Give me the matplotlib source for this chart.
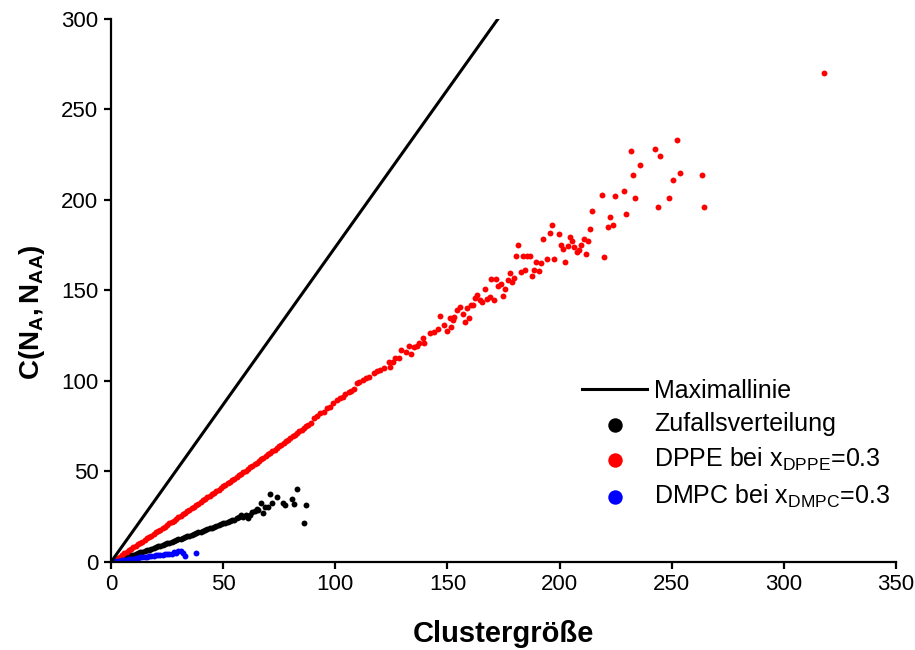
import matplotlib
matplotlib.use('Agg')
import matplotlib.pyplot as plt

plt.rcParams['font.family'] = ['Liberation Sans', 'DejaVu Sans']
plt.rcParams['mathtext.fontset'] = 'custom'
plt.rcParams['mathtext.rm'] = 'Liberation Sans'
plt.rcParams['mathtext.it'] = 'Liberation Sans:italic'
plt.rcParams['mathtext.bf'] = 'Liberation Sans:bold'

# Maximallinie
max_n = [0, 172.5]
max_c = [0, 300]

# Zufallsverteilung
rand_n = [1, 2, 3, 4, 5, 6, 7, 8, 9, 10, 11, 12, 13, 14, 15, 16, 17, 18, 19, 20,
          21, 22, 23, 24, 25, 26, 27, 28, 29, 30, 31, 32, 33, 34, 35, 36, 37, 38, 39, 40,
          41, 42, 43, 44, 45, 46, 47, 48, 49, 50, 51, 52, 53, 54, 55, 56, 57, 58, 59, 60,
          61, 62, 63, 64.3, 65, 65.5, 66.8, 67.7, 68.8, 69.8, 71, 71.7, 74, 76.9, 77.7,
          80.7, 81.7, 82.9, 85.9, 87.1]
rand_c = [0.0, 0.5, 1.0, 1.5, 2.0, 2.4, 2.8, 3.2, 3.6, 4.1, 4.5, 4.9, 5.3, 5.7, 6.1, 6.5,
          6.9, 7.4, 7.8, 8.2, 8.6, 9.0, 9.5, 9.9, 10.3, 10.7, 11.2, 11.6, 12.0, 12.5, 12.9,
          13.3, 13.7, 14.2, 14.6, 15.0, 15.5, 16.0, 16.4, 16.8, 17.2, 17.7, 18.1, 18.6, 19.0,
          19.5, 19.9, 20.4, 20.8, 21.3, 21.6, 22.2, 22.5, 23.1, 23.4, 24.1, 24.6, 26.0, 25.0,
          25.8, 24.3, 26.2, 27.8, 28.2, 29.1, 28.7, 32.4, 26.9, 30.2, 30.6, 37.4, 32.4, 35.7,
          32.4, 31.5, 34.8, 32.0, 40.3, 21.4, 31.5]

# DPPE bei x_DPPE = 0.3
dppe_n = [1, 2, 3, 4, 5, 6, 7, 8, 9, 10, 11, 12, 13, 14, 15, 16, 17, 18, 19, 20,
          21, 22, 23, 24, 25, 26, 27, 28, 29, 30, 31, 32, 33, 34, 35, 36, 37, 38, 39, 40,
          41, 42, 43, 44, 45, 46, 47, 48, 49, 50, 51, 52, 53, 54, 55, 56, 57, 58, 59, 60,
          61, 62, 63, 64, 65, 66, 67, 68, 69, 70, 71, 72, 73, 74, 75, 76, 77, 78, 79, 80,
          81, 82, 83, 84, 85, 86, 87, 88, 89,
          90.3, 91.8, 93.3, 94.8, 96.3, 97.8, 99.2, 100.8, 102.2, 103.4, 104.5, 105.9,
          107.0, 108.2, 109.7, 110.8, 112.4, 113.8, 114.9, 117.1, 118.6, 120.1, 121.6,
          124.6, 123.9, 125.7, 126.6, 128.4, 129.5, 131.6, 133.9, 133.0, 134.9, 136.5,
          137.2, 139.6, 139.1, 142.4, 144.2, 145.7, 149.6, 148.4, 151.6, 146.9, 151.0,
          152.5, 153.1, 157.7, 154.3, 155.7, 156.8, 158.8, 159.7, 160.6, 161.5, 162.2,
          163.1, 164.7, 165.6, 166.7, 167.7, 168.8, 169.6, 170.8, 171.7, 172.6, 173.7,
          174.7, 175.8, 176.8, 177.7, 178.7, 179.6, 180.8, 181.6, 182.6, 183.8, 184.8,
          185.7, 186.9, 187.5, 188.5, 189.7, 190.9, 191.8, 192.6, 194.5, 195.7, 196.6,
          197.6, 199.7, 200.8, 201.6, 202.5, 203.7, 204.6, 205.7, 206.6, 207.6, 208.6,
          209.7, 210.9, 211.8, 212.6, 213.7, 214.6, 218.8, 219.8, 221.6, 222.5, 223.7,
          224.7, 228.7, 229.6, 231.7, 232.6, 233.6, 235.7, 242.5, 243.8, 244.6, 248.7,
          250.6, 252.5, 253.7, 263.7, 264.6, 318.0]
dppe_c = [0.0, 1.0, 2.0, 3.0, 3.9, 4.8, 5.6, 6.4, 7.3, 8.1, 8.9, 9.7, 10.5, 11.3, 12.2,
          13.0, 13.8, 14.6, 15.5, 16.3, 17.1, 17.9, 18.8, 19.6, 20.4, 21.3, 22.1, 22.9,
          23.8, 24.6, 25.5, 26.3, 27.2, 28.0, 28.9, 29.7, 30.6, 31.4, 32.3, 33.1, 34.0,
          34.8, 35.7, 36.6, 37.4, 38.3, 39.2, 40.0, 40.9, 41.8, 42.6, 43.5, 44.4, 45.2,
          46.1, 47.0, 47.9, 48.8, 49.6, 50.5, 51.4, 52.3, 53.2, 54.1, 54.9, 55.8, 56.7,
          57.6, 58.5, 59.4, 60.3, 61.2, 62.1, 63.0, 63.9, 64.8, 65.8, 66.7, 67.6, 68.5,
          69.4, 70.3, 71.2, 72.1, 73.1, 74.0, 74.9, 75.8, 76.8,
          79.4, 80.8, 82.1, 83.0, 84.9, 85.8, 88.0, 89.5, 90.6, 91.3, 92.8, 93.8,
          94.6, 95.6, 98.7, 99.4, 100.6, 101.7, 102.4, 104.3, 105.5, 106.1, 107.3,
          107.7, 110.5, 110.3, 112.5, 112.5, 117.1, 116.2, 115.1, 119.3, 118.6, 119.3,
          120.8, 120.8, 123.6, 126.5, 127.2, 128.9, 127.6, 130.8, 130.0, 135.7, 135.0,
          133.7, 135.2, 132.6, 139.2, 140.7, 137.2, 140.5, 135.0, 141.8, 142.0, 146.0,
          147.5, 144.8, 143.8, 150.6, 145.3, 146.2, 156.2, 144.5, 156.2, 152.5, 153.6,
          147.0, 150.6, 155.8, 159.7, 154.9, 156.9, 168.9, 175.1, 160.4, 168.9, 161.2,
          169.0, 169.0, 158.2, 161.3, 165.7, 161.0, 165.0, 178.6, 167.2, 181.6, 186.2,
          167.6, 181.2, 175.0, 172.9, 165.7, 174.6, 179.7, 177.2, 174.0, 171.1, 172.2,
          175.1, 178.3, 170.0, 177.2, 184.2, 194.1, 202.6, 168.3, 185.3, 190.8, 186.2,
          202.2, 205.1, 192.1, 227.0, 213.6, 201.1, 219.2, 228.0, 196.1, 224.3, 201.1,
          211.0, 233.0, 214.9, 214.0, 196.1, 270.0]

# DMPC bei x_DMPC = 0.3
dmpc_n = [1, 2, 3, 4, 5, 6, 7, 8, 9, 10, 11, 12, 13, 14, 15, 16, 17, 18, 19, 20,
          21, 22, 23, 24, 25, 26, 27, 28, 29, 30, 31, 32, 33, 38]
dmpc_c = [0.0, 0.3, 0.5, 0.7, 0.9, 1.1, 1.3, 1.5, 1.7, 1.9, 2.1, 2.3, 2.5, 2.6, 2.8,
          3.0, 3.1, 3.3, 3.4, 3.6, 3.8, 3.9, 4.1, 4.2, 4.4, 4.6, 4.5, 5.3, 4.9, 6.1,
          6.2, 4.8, 3.3, 4.8]

fig = plt.figure(figsize=(9.15, 6.5), dpi=100)
ax = fig.add_axes([0.1213, 0.1354, 0.8579, 0.8354])

ax.plot(max_n, max_c, color='black', lw=2.2, label='Maximallinie', zorder=3)
ax.scatter(rand_n, rand_c, s=18, color='black', lw=0, label='Zufallsverteilung', zorder=2)
ax.scatter(dppe_n, dppe_c, s=18, color='#ff0000', lw=0,
           label='DPPE bei x$_{\\mathrm{DPPE}}$=0.3', zorder=2)
ax.scatter(dmpc_n, dmpc_c, s=18, color='#0000ff', lw=0,
           label='DMPC bei x$_{\\mathrm{DMPC}}$=0.3', zorder=2)

ax.set_xlim(0, 350)
ax.set_ylim(0, 300)
ax.set_xticks(range(0, 351, 50))
ax.set_yticks(range(0, 301, 50))
ax.spines['top'].set_visible(False)
ax.spines['right'].set_visible(False)
for s in ('left', 'bottom'):
    ax.spines[s].set_linewidth(1.6)
ax.tick_params(direction='out', length=5, width=1.6, labelsize=16, pad=4)

ax.set_xlabel('Clustergröße', fontsize=21, fontweight='bold', labelpad=18)
ax.set_ylabel(r'$\mathbf{C(N_A,N_{AA})}$', fontsize=20)
ax.yaxis.set_label_coords(-0.082, 0.46)

ax.legend(loc='upper left', bbox_to_anchor=(582 / 915, 1 - 379 / 650),
          bbox_transform=fig.transFigure, frameon=False, fontsize=18,
          handlelength=2.6, handletextpad=0.3, labelspacing=0.38,
          borderpad=0, borderaxespad=0, markerscale=2.45)

fig.savefig('out.png', dpi=100)
